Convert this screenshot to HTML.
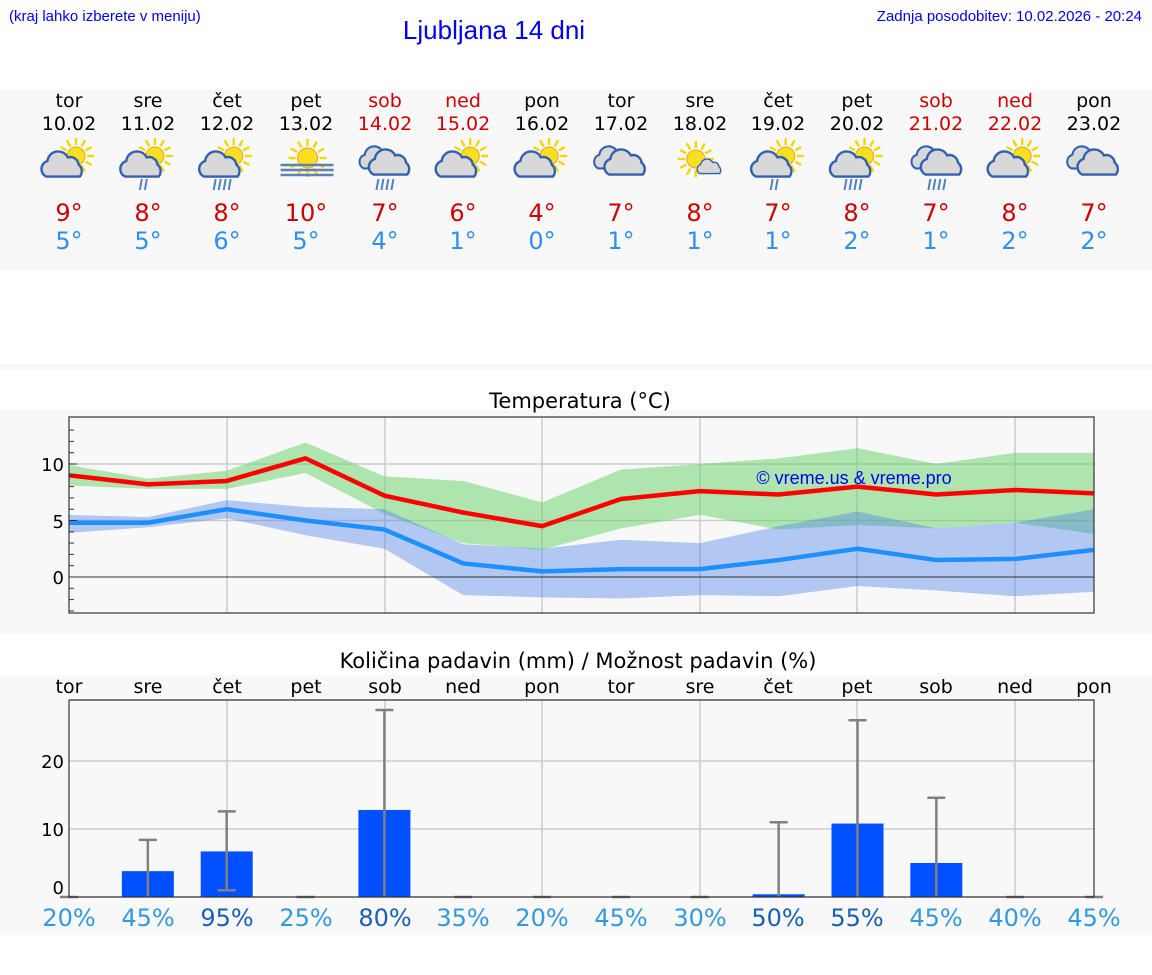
<!DOCTYPE html>
<html><head><meta charset="utf-8"><style>
html,body{margin:0;padding:0;background:#fff;}
svg{display:block;font-family:"DejaVu Sans","Liberation Sans",sans-serif;}
</style></head><body>
<svg id="s" width="1152" height="975" viewBox="0 0 1152 975" xmlns="http://www.w3.org/2000/svg">
<rect x="0" y="90" width="1152" height="180" fill="#f8f8f8"/>
<rect x="0" y="364" width="1152" height="6" fill="#f6f6f6"/>
<rect x="0" y="410" width="1152" height="225" fill="#f8f8f8"/>
<rect x="0" y="675" width="1152" height="260" fill="#f8f8f8"/>
<text x="9" y="21" font-size="15" fill="#0000ee" font-family="Liberation Sans,sans-serif">(kraj lahko izberete v meniju)</text>
<text x="494" y="39" font-size="26" fill="#0000ee" text-anchor="middle" font-family="Liberation Sans,sans-serif">Ljubljana 14 dni</text>
<text x="1142" y="21" font-size="15" fill="#0000ee" text-anchor="end" font-family="Liberation Sans,sans-serif">Zadnja posodobitev: 10.02.2026 - 20:24</text>
<g font-size="19" text-anchor="middle">
<g fill="#000"><text x="69" y="107">tor</text><text x="148" y="107">sre</text><text x="227" y="107">čet</text><text x="306" y="107">pet</text><text x="542" y="107">pon</text><text x="621" y="107">tor</text><text x="700" y="107">sre</text><text x="778" y="107">čet</text><text x="857" y="107">pet</text><text x="1094" y="107">pon</text>
<text x="69" y="130">10.02</text><text x="148" y="130">11.02</text><text x="227" y="130">12.02</text><text x="306" y="130">13.02</text><text x="542" y="130">16.02</text><text x="621" y="130">17.02</text><text x="700" y="130">18.02</text><text x="778" y="130">19.02</text><text x="857" y="130">20.02</text><text x="1094" y="130">23.02</text></g>
<g fill="#cc0000"><text x="385" y="107">sob</text><text x="463" y="107">ned</text><text x="936" y="107">sob</text><text x="1015" y="107">ned</text>
<text x="385" y="130">14.02</text><text x="463" y="130">15.02</text><text x="936" y="130">21.02</text><text x="1015" y="130">22.02</text></g>
</g>
<g font-size="24" text-anchor="middle">
<g fill="#cc0000"><text x="69" y="221">9°</text><text x="148" y="221">8°</text><text x="227" y="221">8°</text><text x="306" y="221">10°</text><text x="385" y="221">7°</text><text x="463" y="221">6°</text><text x="542" y="221">4°</text><text x="621" y="221">7°</text><text x="700" y="221">8°</text><text x="778" y="221">7°</text><text x="857" y="221">8°</text><text x="936" y="221">7°</text><text x="1015" y="221">8°</text><text x="1094" y="221">7°</text></g>
<g fill="#2e8fef"><text x="69" y="249">5°</text><text x="148" y="249">5°</text><text x="227" y="249">6°</text><text x="306" y="249">5°</text><text x="385" y="249">4°</text><text x="463" y="249">1°</text><text x="542" y="249">0°</text><text x="621" y="249">1°</text><text x="700" y="249">1°</text><text x="778" y="249">1°</text><text x="857" y="249">2°</text><text x="936" y="249">1°</text><text x="1015" y="249">2°</text><text x="1094" y="249">2°</text></g>
</g>
<g id="icons"></g>
<text x="580" y="408" font-size="21" text-anchor="middle">Temperatura (°C)</text>
<g id="temp"></g>
<g font-size="18" text-anchor="end"><text x="64" y="471">10</text><text x="64" y="528">5</text><text x="64" y="584">0</text></g>
<text x="854" y="484" font-size="18" fill="#0000ee" text-anchor="middle" font-family="Liberation Sans,sans-serif">© vreme.us &amp; vreme.pro</text>
<text x="578" y="668" font-size="21" text-anchor="middle">Količina padavin (mm) / Možnost padavin (%)</text>
<g font-size="19" text-anchor="middle" fill="#000"><text x="69" y="693">tor</text><text x="148" y="693">sre</text><text x="227" y="693">čet</text><text x="306" y="693">pet</text><text x="385" y="693">sob</text><text x="463" y="693">ned</text><text x="542" y="693">pon</text><text x="621" y="693">tor</text><text x="700" y="693">sre</text><text x="778" y="693">čet</text><text x="857" y="693">pet</text><text x="936" y="693">sob</text><text x="1015" y="693">ned</text><text x="1094" y="693">pon</text></g>
<g id="prec"></g>
<g font-size="18" text-anchor="end"><text x="64" y="768">20</text><text x="64" y="836">10</text><text x="64" y="894">0</text></g>
<g font-size="24" text-anchor="middle">
<text x="69" y="926" fill="#3399dd">20%</text><text x="148" y="926" fill="#3399dd">45%</text><text x="227" y="926" fill="#1a5fb4">95%</text><text x="306" y="926" fill="#3399dd">25%</text><text x="385" y="926" fill="#1a5fb4">80%</text><text x="463" y="926" fill="#3399dd">35%</text><text x="542" y="926" fill="#3399dd">20%</text><text x="621" y="926" fill="#3399dd">45%</text><text x="700" y="926" fill="#3399dd">30%</text><text x="778" y="926" fill="#1a5fb4">50%</text><text x="857" y="926" fill="#1a5fb4">55%</text><text x="936" y="926" fill="#3399dd">45%</text><text x="1015" y="926" fill="#3399dd">40%</text><text x="1094" y="926" fill="#3399dd">45%</text>
</g>
</svg>
<script>
var NS="http://www.w3.org/2000/svg";
function el(p,t,a){var e=document.createElementNS(NS,t);for(var k in a)e.setAttribute(k,a[k]);p.appendChild(e);return e;}
function X(i){return 69+78.85*i;}
var T=document.getElementById("temp");
el(T,"rect",{x:69,y:417,width:1025,height:196,fill:"#f8f8f8"});
function ty(v){return 577-11.3*v;}
[227,385,542,700,857,1015].forEach(function(x){el(T,"line",{x1:x,y1:417,x2:x,y2:613,stroke:"#ccc","stroke-width":1.5});});
[5,10].forEach(function(v){el(T,"line",{x1:69,y1:ty(v),x2:1094,y2:ty(v),stroke:"#ccc","stroke-width":1.5});});
function band(u,l,c){var p=[];u.forEach(function(v,i){p.push(X(i)+","+ty(v));});for(var i=l.length-1;i>=0;i--)p.push(X(i)+","+ty(l[i]));el(T,"polygon",{points:p.join(" "),fill:c});}
function line(a,c){el(T,"polyline",{points:a.map(function(v,i){return X(i)+","+ty(v);}).join(" "),fill:"none",stroke:c,"stroke-width":4.5,"stroke-linejoin":"round"});}
band([9.9,8.7,9.4,11.9,8.9,8.5,6.6,9.5,10,10.5,11.4,10,11,11],[8.1,7.8,7.8,9.2,5.6,3,2.4,4.3,5.5,4.2,4.6,4.3,4.8,3.8],"rgba(100,210,100,0.5)");
band([5.5,5.3,6.8,6.2,6,2.9,2.5,3.3,3,4.5,5.8,4.3,4.8,6],[3.9,4.4,5.2,3.7,2.5,-1.6,-1.8,-1.9,-1.6,-1.7,-0.8,-1.2,-1.7,-1.3],"rgba(80,130,230,0.42)");
el(T,"line",{x1:69,y1:ty(0),x2:1094,y2:ty(0),stroke:"#333","stroke-width":1});
line([4.8,4.8,6,5,4.2,1.2,0.5,0.7,0.7,1.5,2.5,1.5,1.6,2.4],"#1e8fff");
line([9,8.2,8.5,10.5,7.2,5.7,4.5,6.9,7.6,7.3,8,7.3,7.7,7.4],"#ff0000");
for(var v=-3;v<=13;v++)el(T,"line",{x1:69,y1:ty(v),x2:v%5==0?77:74,y2:ty(v),stroke:"#333","stroke-width":1});
el(T,"rect",{x:69,y:417,width:1025,height:196,fill:"none",stroke:"#333","stroke-width":1.2});
var P=document.getElementById("prec");
el(P,"rect",{x:69,y:700,width:1025,height:197,fill:"#f8f8f8"});
function py(v){return 897-6.8*v;}
[227,385,542,700,857,1015].forEach(function(x){el(P,"line",{x1:x,y1:700,x2:x,y2:897,stroke:"#ccc","stroke-width":1.5});});
[10,20].forEach(function(v){el(P,"line",{x1:69,y1:py(v),x2:1094,y2:py(v),stroke:"#ccc","stroke-width":1.5});});
var bars=[0,3.8,6.7,0,12.8,0,0,0,0,0.4,10.8,5,0,0];
var eh=[0,8.4,12.6,0,27.5,0,0,0,0,11,26,14.6,0,0];
var el0=[0,0,1,0,0,0,0,0,0,0,0,0,0,0];
bars.forEach(function(b,i){var x=X(i);
 if(b>0)el(P,"rect",{x:x-26,y:py(b),width:52,height:897-py(b),fill:"#0050ff"});
 el(P,"line",{x1:x-9,y1:py(eh[i]),x2:x+9,y2:py(eh[i]),stroke:"#808080","stroke-width":2.5});
 if(eh[i]>0){el(P,"line",{x1:x,y1:py(eh[i]),x2:x,y2:py(el0[i]),stroke:"#808080","stroke-width":2.5});
 if(el0[i]>0)el(P,"line",{x1:x-9,y1:py(el0[i]),x2:x+9,y2:py(el0[i]),stroke:"#808080","stroke-width":2.5});}
});
el(P,"polyline",{points:"69,700 1094,700 1094,897 69,897 69,700",fill:"none",stroke:"#333","stroke-width":1.2});
var I=document.getElementById("icons");
function sun(x,y,r){var g=el(I,"g",{});for(var k=0;k<12;k++){var a=k*Math.PI/6;el(g,"line",{x1:x+Math.cos(a)*(r+2),y1:y+Math.sin(a)*(r+2),x2:x+Math.cos(a)*(r+9),y2:y+Math.sin(a)*(r+9),stroke:"#f0d800","stroke-width":2.4});}
el(g,"circle",{cx:x,cy:y,r:r,fill:"#f8e020",stroke:"#f0a020","stroke-width":1});}
function cloud(x,y,s){var g=el(I,"g",{transform:"translate("+x+","+y+") scale("+s+")"});
el(g,"path",{d:"M-14,8 a7,7 0 0 1 1,-13 a9,9 0 0 1 17,-3 a7,7 0 0 1 9,6 a7,7 0 0 1 1,10 z",fill:"#d8d8d8",stroke:"#3060b0","stroke-width":2});}
function rain(x,y,n){for(var k=0;k<n;k++)el(I,"line",{x1:x+k*5+2,y1:y,x2:x+k*5,y2:y+11,stroke:"#5080c0","stroke-width":2});}
var types=[0,1,2,3,4,0,0,5,6,1,2,4,0,5];
types.forEach(function(t,i){var x=X(i),y=163;
 if(t==0||t==1||t==2){sun(x+7,y-7,9);cloud(x-6,y+4,1.2);if(t==1)rain(x-8,y+16,2);if(t==2)rain(x-13,y+16,4);}
 if(t==3){sun(x+2,y-5,10);[0,5,10].forEach(function(d){el(I,"line",{x1:x-25,y1:y+2+d,x2:x+28,y2:y+2+d,stroke:"#6080b0","stroke-width":2.5});});}
 if(t==4){cloud(x-6,y-3,1.05);cloud(x+6,y+2,1.2);rain(x-8,y+16,4);}
 if(t==5){cloud(x-8,y-3,1.05);cloud(x+5,y+2,1.2);}
 if(t==6){sun(x-4,y-4,9);cloud(x+10,y+5,0.7);}
});
</script>
</body></html>
